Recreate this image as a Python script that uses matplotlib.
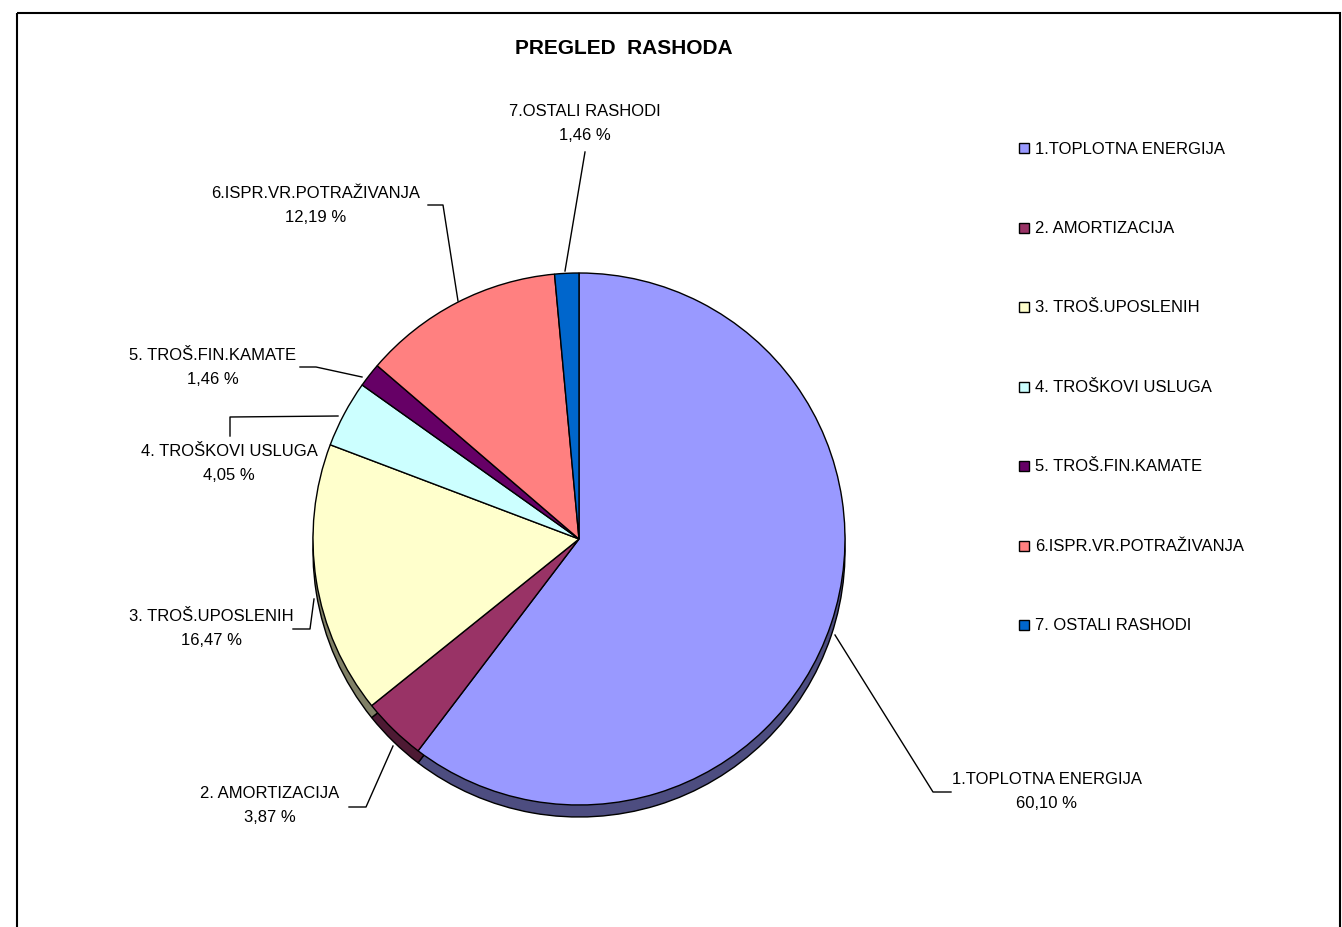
import matplotlib.pyplot as plt
from matplotlib.patches import Rectangle
from matplotlib.colors import to_rgb

plt.rcParams['font.family'] = ['Liberation Sans', 'DejaVu Sans']

kategorije = ["1.TOPLOTNA ENERGIJA", "2. AMORTIZACIJA", "3. TROŠ.UPOSLENIH",
              "4. TROŠKOVI USLUGA", "5. TROŠ.FIN.KAMATE", "6.ISPR.VR.POTRAŽIVANJA",
              "7. OSTALI RASHODI"]
oznake = ["1.TOPLOTNA ENERGIJA", "2. AMORTIZACIJA", "3. TROŠ.UPOSLENIH",
          "4. TROŠKOVI USLUGA", "5. TROŠ.FIN.KAMATE", "6.ISPR.VR.POTRAŽIVANJA",
          "7.OSTALI RASHODI"]
udjeli = [60.10, 3.87, 16.47, 4.05, 1.46, 12.19, 1.46]
boje = ["#9999FF", "#993366", "#FFFFCC", "#CCFFFF", "#660066", "#FF8080", "#0066CC"]

# pozicije natpisa i linija (piksel koordinate)
natpis_xy = [(1047, 792), (270, 806), (211, 629), (229, 464), (213, 368), (316, 205), (585, 123)]
linije = [
    [(835, 636), (933, 793), (951, 793)],
    [(393, 747), (366, 808), (349, 808)],
    [(314, 600), (310, 630), (293, 630)],
    [(338, 417), (230, 418), (230, 437)],
    [(362, 378), (316, 368), (300, 368)],
    [(458, 302), (443, 206), (428, 206)],
    [(565, 272), (585, 153)],
]

def tamnije(c, f=0.5):
    r, g, b = to_rgb(c)
    return (r * f, g * f, b * f)

fig = plt.figure(figsize=(13.42, 9.28), dpi=100)
ax = fig.add_axes([0, 0, 1, 1])
ax.set_xlim(0, 1342)
ax.set_ylim(928, 0)
ax.set_aspect('equal')
ax.axis('off')

centar = (579, 540)
r = 266
dubina = 12

# "3D" debljina
ax.pie(udjeli, colors=[tamnije(c) for c in boje], startangle=-90, counterclock=True,
       center=(centar[0], centar[1] + dubina), radius=r,
       wedgeprops=dict(edgecolor='black', linewidth=1))
ax.pie(udjeli, colors=boje, startangle=-90, counterclock=True,
       center=centar, radius=r,
       wedgeprops=dict(edgecolor='black', linewidth=1))
ax.set_xlim(0, 1342)
ax.set_ylim(928, 0)

for i, v in enumerate(udjeli):
    x, y = natpis_xy[i]
    tekst = oznake[i] + "\n" + ("%.2f %%" % v).replace(".", ",")
    ax.text(x, y, tekst, ha='center', va='center', fontsize=12, linespacing=1.75)
    xs = [p[0] for p in linije[i]]
    ys = [p[1] for p in linije[i]]
    ax.plot(xs, ys, color='black', linewidth=1)

# legenda
for i, k in enumerate(kategorije):
    y = 149 + i * 79.5
    ax.add_patch(Rectangle((1019, y - 5), 10, 10, facecolor=boje[i], edgecolor='black', linewidth=1))
    ax.text(1035, y, k, ha='left', va='center', fontsize=12)

ax.text(624, 48, "PREGLED  RASHODA", ha='center', va='center', fontsize=15, fontweight='bold')

ax.add_patch(Rectangle((17, 14), 1323, 940, fill=False, edgecolor='black', linewidth=1.5))

fig.savefig("out.png", dpi=100)
